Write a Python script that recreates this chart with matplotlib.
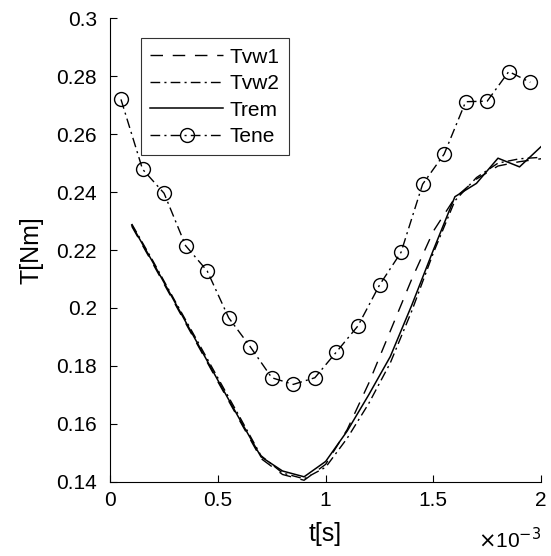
import matplotlib.pyplot as plt

plt.rcParams['font.family'] = ['Liberation Sans', 'DejaVu Sans']

# time axis (x 1e-3 s)
t_ene = [0.05, 0.15, 0.25, 0.35, 0.45, 0.55, 0.65, 0.75, 0.85, 0.95,
         1.05, 1.15, 1.25, 1.35, 1.45, 1.55, 1.65, 1.75, 1.85, 1.95]
t_line = [0.1, 0.2, 0.3, 0.4, 0.5, 0.6, 0.7, 0.8, 0.9, 1.0,
          1.1, 1.2, 1.3, 1.4, 1.5, 1.6, 1.7, 1.8, 1.9, 2.0]

tvw1 = [0.2282, 0.2150, 0.2015, 0.1880, 0.1745, 0.1612, 0.1480, 0.1425, 0.1405, 0.1460,
        0.1580, 0.1740, 0.1920, 0.2100, 0.2265, 0.2380, 0.2445, 0.2490, 0.2505, 0.2515]
tvw2 = [0.2290, 0.2160, 0.2025, 0.1892, 0.1758, 0.1625, 0.1490, 0.1430, 0.1410, 0.1450,
        0.1550, 0.1670, 0.1810, 0.1990, 0.2190, 0.2370, 0.2450, 0.2500, 0.2515, 0.2520]
trem = [0.2286, 0.2155, 0.2020, 0.1885, 0.1750, 0.1617, 0.1486, 0.1437, 0.1417, 0.1470,
        0.1575, 0.1700, 0.1832, 0.2010, 0.2200, 0.2384, 0.2430, 0.2517, 0.2487, 0.2557]
tene = [0.2720, 0.2479, 0.2396, 0.2215, 0.2128, 0.1966, 0.1866, 0.1759, 0.1736, 0.1759,
        0.1848, 0.1938, 0.2079, 0.2192, 0.2427, 0.2531, 0.2712, 0.2714, 0.2816, 0.2779]

xticks = [0, 0.5, 1, 1.5, 2]
xticklabels = ['0', '0.5', '1', '1.5', '2']
yticks = [0.14, 0.16, 0.18, 0.2, 0.22, 0.24, 0.26, 0.28, 0.3]
yticklabels = ['0.14', '0.16', '0.18', '0.2', '0.22', '0.24', '0.26', '0.28', '0.3']

fig = plt.figure(figsize=(5.51, 5.56), dpi=100)
ax = fig.add_axes([0.2, 0.1336, 0.782, 0.8335])

dashdot = (0, (7, 3, 1.5, 3))
ax.plot(t_line, tvw1, color='k', lw=1, linestyle=(0, (9, 7)), label='Tvw1')
ax.plot(t_line, tvw2, color='k', lw=1, linestyle=dashdot, label='Tvw2')
ax.plot(t_line, trem, color='k', lw=1.1, linestyle='-', label='Trem')
ax.plot(t_ene, tene, color='k', lw=1, linestyle=dashdot, marker='o',
        markersize=10, markerfacecolor='none', markeredgecolor='k', markeredgewidth=1,
        label='Tene')

ax.set_xlim(0, 2)
ax.set_ylim(0.14, 0.3)
ax.set_xticks(xticks)
ax.set_xticklabels(xticklabels)
ax.set_yticks(yticks)
ax.set_yticklabels(yticklabels)
ax.tick_params(direction='in', length=5, width=0.8, labelsize=15)
ax.tick_params(axis='y', pad=9.5)
ax.tick_params(axis='x', pad=7)
ax.spines['top'].set_visible(False)
ax.spines['right'].set_visible(False)
for s in ['left', 'bottom']:
    ax.spines[s].set_linewidth(0.8)

ax.set_xlabel('t[s]', fontsize=18, labelpad=8)
ax.set_ylabel('T[Nm]', fontsize=18, labelpad=9)
# exponent of the x axis, drawn like matlab does
ax.text(1.0, -0.125, r'$\times$10$^{-3}$', transform=ax.transAxes, ha='right', va='center',
        fontsize=15)

leg = ax.legend(loc='upper left', bbox_to_anchor=(0.071, 0.957), fontsize=15, frameon=True,
                fancybox=False, edgecolor='k', handlelength=3.5, handletextpad=0.3,
                labelspacing=0.36, borderpad=0.45, borderaxespad=0)
leg.get_frame().set_linewidth(0.8)

fig.savefig('out.png', dpi=100)
